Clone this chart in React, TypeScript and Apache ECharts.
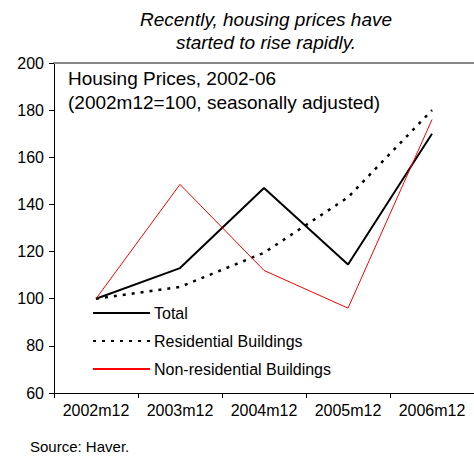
import React, { useEffect, useRef } from "react";
import * as echarts from "echarts";

const categories = ["2002m12", "2003m12", "2004m12", "2005m12", "2006m12"];
const totalValues = [100, 113, 147, 114.5, 170];
const residentialValues = [100, 105, 119.5, 143, 180];
const nonResidentialValues = [100, 148.5, 112, 96, 176];

const FONT = "Liberation Sans, Arial, sans-serif";

export default function App() {
  const ref = useRef<HTMLDivElement>(null);
  useEffect(() => {
    if (!ref.current) return;
    const chart = echarts.init(ref.current, null, { renderer: "svg" });
    chart.setOption({
      animation: false,
      backgroundColor: "#ffffff",
      textStyle: { fontFamily: FONT },
      title: [
        {
          text: "Recently, housing prices have\nstarted to rise rapidly.",
          left: 266,
          top: 8,
          padding: 0,
          textAlign: "center",
          textStyle: {
            fontFamily: FONT,
            fontStyle: "italic",
            fontWeight: "normal",
            fontSize: 19,
            lineHeight: 23,
            color: "#000",
          },
        },
        {
          text: "Housing Prices, 2002-06\n(2002m12=100, seasonally adjusted)",
          left: 68,
          top: 66,
          padding: 0,
          textStyle: {
            fontFamily: FONT,
            fontWeight: "normal",
            fontSize: 19,
            lineHeight: 24,
            color: "#000",
          },
        },
        {
          text: "Source: Haver.",
          left: 30,
          top: 438,
          padding: 0,
          textStyle: {
            fontFamily: FONT,
            fontWeight: "normal",
            fontSize: 15,
            lineHeight: 17,
            color: "#000",
          },
        },
      ],
      legend: {
        orient: "vertical",
        left: 87,
        top: 300,
        itemWidth: 57,
        itemHeight: 14,
        itemGap: 12,
        itemStyle: { opacity: 0 },
        textStyle: { fontFamily: FONT, fontSize: 16, color: "#000", padding: [0, 0, 0, -1] },
        data: ["Total", "Residential Buildings", "Non-residential Buildings"],
      },
      grid: { left: 54, top: 63, width: 421, height: 330, containLabel: false },
      xAxis: [
        {
          type: "category",
          data: categories,
          boundaryGap: true,
          axisLine: { lineStyle: { color: "#000", width: 1 } },
          axisTick: { show: true, length: 5, inside: false, lineStyle: { color: "#000" } },
          axisLabel: {
            fontFamily: FONT,
            fontSize: 16,
            color: "#000",
            margin: 9,
            interval: 0,
            hideOverlap: false,
          },
          splitLine: { show: false },
        },
        {
          type: "category",
          data: categories,
          position: "top",
          boundaryGap: true,
          axisLine: { lineStyle: { color: "#888", width: 2 } },
          axisTick: { show: false },
          axisLabel: { show: false },
          splitLine: { show: false },
        },
      ],
      yAxis: {
        type: "value",
        min: 60,
        max: 200,
        interval: 20,
        axisLine: { show: true, lineStyle: { color: "#000", width: 1 } },
        axisTick: { show: true, length: 5, lineStyle: { color: "#000" } },
        axisLabel: { fontFamily: FONT, fontSize: 16, color: "#000", margin: 10 },
        splitLine: { show: false },
      },
      series: [
        {
          name: "Total",
          type: "line",
          data: totalValues,
          symbol: "none",
          lineStyle: { color: "#000", width: 2 },
          itemStyle: { color: "#000" },
        },
        {
          name: "Residential Buildings",
          type: "line",
          data: residentialValues,
          symbol: "none",
          lineStyle: { color: "#000", width: 2.5, type: [3, 6] },
          itemStyle: { color: "#000" },
        },
        {
          name: "Non-residential Buildings",
          type: "line",
          data: nonResidentialValues,
          symbol: "none",
          lineStyle: { color: "#ff0000", width: 1 },
          itemStyle: { color: "#ff0000" },
        },
      ],
    });
    return () => chart.dispose();
  }, []);
  return (
    <div
      ref={ref}
      style={{ position: "fixed", left: 0, top: 0, width: 474, height: 457 }}
    />
  );
}
